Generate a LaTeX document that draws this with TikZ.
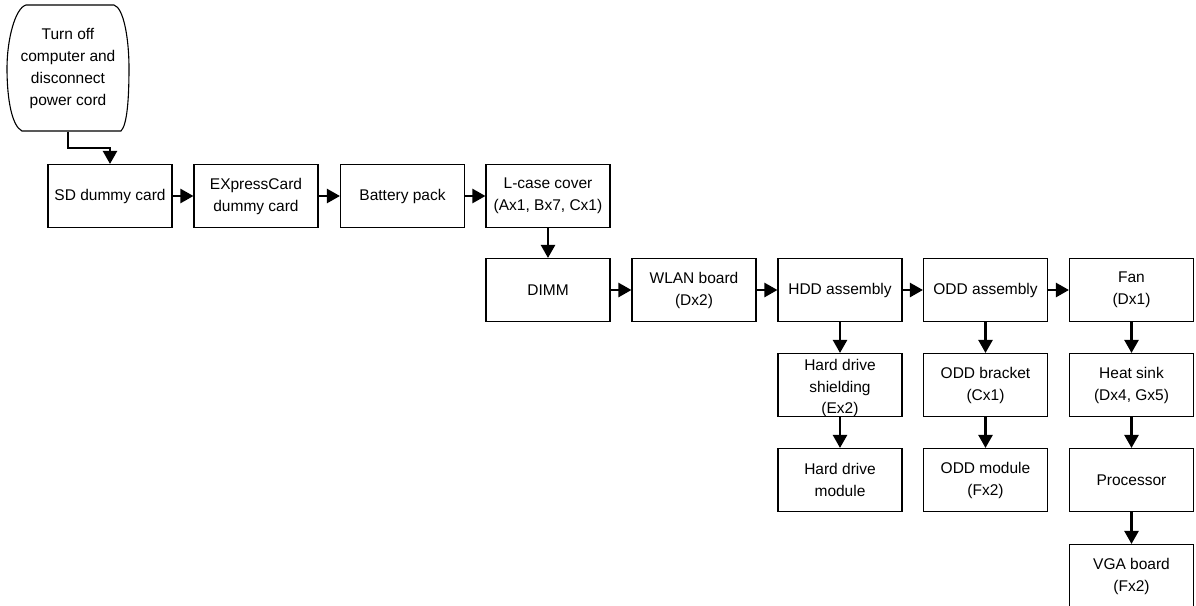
\documentclass[tikz,border=0pt]{standalone}
\usepackage{fontspec}
\setmainfont{Liberation Sans}
\usetikzlibrary{arrows.meta}
\begin{document}
\begin{tikzpicture}[x=1pt,y=-1pt,
  box/.style={draw,line width=1.1pt,minimum width=124pt,minimum height=63pt,inner sep=0pt,align=center,font=\fontsize{15.5}{22}\selectfont},
  arr/.style={line width=2.4pt,-{Triangle[length=13pt,width=14pt]}}]
\useasboundingbox (0,0) rectangle (1196,605);
% start terminator
\draw[line width=1.1pt] (26,5) -- (114,5) .. controls (124,8) and (129,40) .. (129,68) .. controls (129,100) and (127,125) .. (121,131) -- (22,131) .. controls (12,126) and (7,100) .. (7,68) .. controls (7,40) and (15,8) .. (26,5) -- cycle;
\node[align=center,inner sep=0pt,minimum width=120pt,minimum height=126pt,font=\fontsize{15.5}{21.7}\selectfont] (start) at (68,68.5) {Turn off\\computer and\\disconnect\\power cord};
% row 1
\node[box] (sd) at (110,196) {SD dummy card};
\node[box] (exp) at (256,196) {EXpressCard\\dummy card};
\node[box] (bat) at (402.5,196) {Battery pack};
\node[box] (lcase) at (548,196) {L-case cover\\(Ax1, Bx7, Cx1)};
% row 2
\node[box] (dimm) at (548,290) {DIMM};
\node[box] (wlan) at (694,290) {WLAN board\\(Dx2)};
\node[box] (hdd) at (840,290) {HDD assembly};
\node[box] (odd) at (985.5,290) {ODD assembly};
\node[box] (fan) at (1131.5,290) {Fan\\(Dx1)};
% row 3
\node[box] (shield) at (840,385) {};
\node[align=center,inner sep=0pt,font=\fontsize{15.5}{21.5}\selectfont] at (840,388) {Hard drive\\shielding\\(Ex2)};
\node[box] (bracket) at (985.5,385) {ODD bracket\\(Cx1)};
\node[box] (heat) at (1131.5,385) {Heat sink\\(Dx4, Gx5)};
% row 4
\node[box] (hdm) at (840,480) {Hard drive\\module};
\node[box] (oddm) at (985.5,480) {ODD module\\(Fx2)};
\node[box] (cpu) at (1131.5,480) {Processor};
% row 5
\node[box] (vga) at (1131.5,576) {VGA board\\(Fx2)};
% connectors
\coordinate (bend) at (110,148);
\draw[arr] (start.south) |- (bend) -- (sd.north);
\draw[arr] (sd) -- (exp);
\draw[arr] (exp) -- (bat);
\draw[arr] (bat) -- (lcase);
\draw[arr] (lcase) -- (dimm);
\draw[arr] (dimm) -- (wlan);
\draw[arr] (wlan) -- (hdd);
\draw[arr] (hdd) -- (odd);
\draw[arr] (odd) -- (fan);
\draw[arr] (hdd) -- (shield);
\draw[arr] (shield) -- (hdm);
\draw[arr] (odd) -- (bracket);
\draw[arr] (bracket) -- (oddm);
\draw[arr] (fan) -- (heat);
\draw[arr] (heat) -- (cpu);
\draw[arr] (cpu) -- (vga);
\end{tikzpicture}
\end{document}
